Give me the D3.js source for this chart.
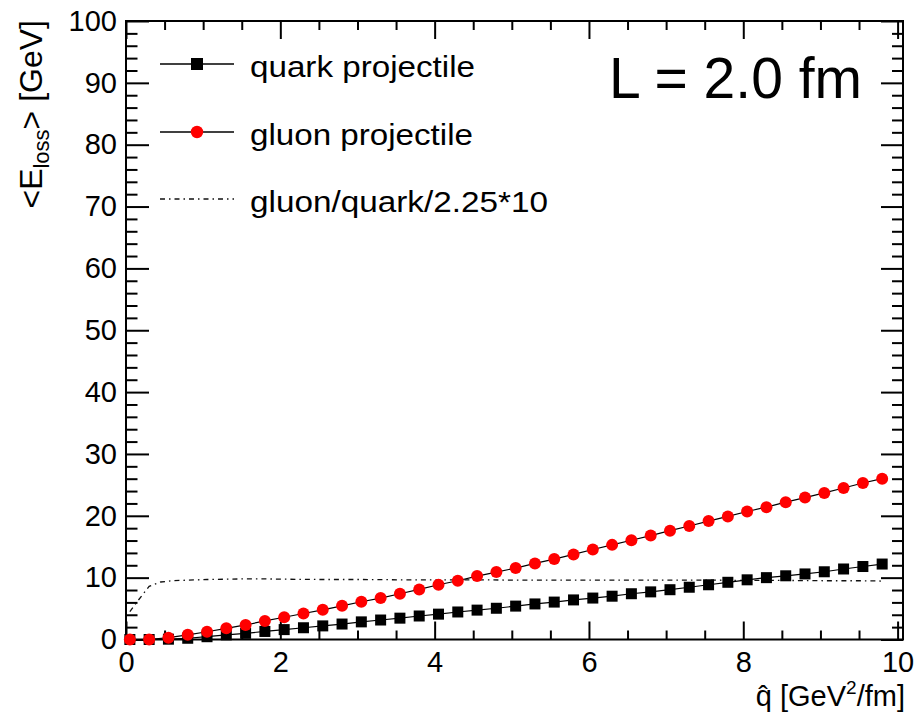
<!DOCTYPE html>
<html><head><meta charset="utf-8">
<script src="https://cdn.jsdelivr.net/npm/d3@7"></script>
<style>body{margin:0;background:#fff}</style>
</head><body><svg id="c" width="916" height="721"></svg>
<script>
// ---- data ----
const qValues = [0.05,0.3,0.55,0.8,1.05,1.3,1.55,1.8,2.05,2.3,2.55,2.8,3.05,3.3,3.55,3.8,4.05,4.3,4.55,4.8,
                 5.05,5.3,5.55,5.8,6.05,6.3,6.55,6.8,7.05,7.3,7.55,7.8,8.05,8.3,8.55,8.8,9.05,9.3,9.55,9.8];
const quarkLoss = [0,0,0.05,0.2,0.45,0.75,1.0,1.3,1.6,1.9,2.2,2.5,2.85,3.15,3.45,3.8,4.1,4.45,4.75,5.05,
                   5.4,5.75,6.05,6.4,6.7,7.0,7.4,7.7,8.05,8.45,8.85,9.25,9.65,10.0,10.3,10.6,10.95,11.4,11.8,12.2];
const gluonLoss = [0,0,0.3,0.75,1.25,1.8,2.35,3.0,3.6,4.2,4.8,5.45,6.1,6.7,7.4,8.1,8.85,9.5,10.25,10.9,
                   11.55,12.3,13.0,13.75,14.55,15.3,16.05,16.8,17.6,18.35,19.15,19.9,20.7,21.4,22.2,22.95,23.7,24.5,25.3,26.0];
const ratioQ = [0.05,0.15,0.3,0.45,0.6,0.8,1.05,1.3,1.55,1.8,2.05,2.55,3.05,3.55,4.05,4.55,5.05,5.55,6.05,6.55,7.05,7.55,8.05,8.55,9.05,9.55,9.8];
const ratioValues = [4.5,6.2,8.6,9.3,9.5,9.6,9.7,9.75,9.8,9.8,9.75,9.7,9.7,9.65,9.65,9.65,9.6,9.6,9.6,9.6,9.6,9.6,9.55,9.55,9.5,9.5,9.45];
const xMajorTicks = [0,2,4,6,8,10];
const yMajorTicks = [0,10,20,30,40,50,60,70,80,90,100];
const legendLabels = ["quark projectile","gluon projectile","gluon/quark/2.25*10"];
const annotation = "L = 2.0 fm";

const FONT = "'Liberation Sans', Arial, Helvetica, sans-serif";
const svg = d3.select("#c").style("font-family", FONT);
const x = d3.scaleLinear().domain([0, 10.07]).range([126, 903]);
const y = d3.scaleLinear().domain([0, 100]).range([639.5, 21]);

const xMinor = d3.range(0, 10.06, 0.5).filter(v => Math.abs(v/2 - Math.round(v/2)) > 1e-6);
const yMinor = d3.range(0, 100.1, 2).filter(v => v % 10 !== 0);

function styleAxis(g){
  g.select(".domain").remove();
  g.selectAll("line").attr("stroke","#000").attr("stroke-width",2);
  g.selectAll("text").attr("font-size",29).attr("fill","#000").attr("font-family",FONT);
}
// bottom
svg.append("g").attr("transform",`translate(0,${y(0)})`)
  .call(d3.axisBottom(x).tickValues(xMajorTicks).tickSize(-18).tickPadding(12).tickFormat(d3.format("d"))).call(styleAxis);
svg.append("g").attr("transform",`translate(0,${y(0)})`)
  .call(d3.axisBottom(x).tickValues(xMinor).tickSize(-9).tickFormat("")).call(styleAxis);
// top
svg.append("g").attr("transform",`translate(0,${y(100)})`)
  .call(d3.axisTop(x).tickValues(xMajorTicks).tickSize(-18).tickFormat("")).call(styleAxis);
svg.append("g").attr("transform",`translate(0,${y(100)})`)
  .call(d3.axisTop(x).tickValues(xMinor).tickSize(-9).tickFormat("")).call(styleAxis);
// left
svg.append("g").attr("transform",`translate(${x(0)},0)`)
  .call(d3.axisLeft(y).tickValues(yMajorTicks).tickSize(-23).tickPadding(9).tickFormat(d3.format("d"))).call(styleAxis);
svg.append("g").attr("transform",`translate(${x(0)},0)`)
  .call(d3.axisLeft(y).tickValues(yMinor).tickSize(-11.5).tickFormat("")).call(styleAxis);
// right
svg.append("g").attr("transform",`translate(${x.range()[1]},0)`)
  .call(d3.axisRight(y).tickValues(yMajorTicks).tickSize(-22).tickFormat("")).call(styleAxis);
svg.append("g").attr("transform",`translate(${x.range()[1]},0)`)
  .call(d3.axisRight(y).tickValues(yMinor).tickSize(-11).tickFormat("")).call(styleAxis);

// frame
svg.append("rect").attr("x",x(0)).attr("y",y(100)).attr("width",x.range()[1]-x(0)).attr("height",y(0)-y(100))
  .attr("fill","none").attr("stroke","#000").attr("stroke-width",2);

// ratio dash-dot line
const line = d3.line().x(d=>x(d[0])).y(d=>y(d[1]));
svg.append("path").datum(ratioQ.map((q,i)=>[q,ratioValues[i]])).attr("d",line)
  .attr("fill","none").attr("stroke","#111").attr("stroke-width",1.3).attr("stroke-dasharray","5,4,1.5,4");

// quark
const quarkPts = qValues.map((q,i)=>[q,quarkLoss[i]]);
svg.append("path").datum(quarkPts).attr("d",line).attr("fill","none").attr("stroke","#000").attr("stroke-width",1.2);
svg.selectAll("rect.q").data(quarkPts).enter().append("rect").attr("class","q")
  .attr("x",d=>x(d[0])-5.5).attr("y",d=>y(d[1])-5.5).attr("width",11).attr("height",11).attr("fill","#000");
// gluon
const gluonPts = qValues.map((q,i)=>[q,gluonLoss[i]]);
svg.append("path").datum(gluonPts).attr("d",line).attr("fill","none").attr("stroke","#000").attr("stroke-width",1.2);
svg.selectAll("circle.g").data(gluonPts).enter().append("circle").attr("class","g")
  .attr("cx",d=>x(d[0])).attr("cy",d=>y(d[1])).attr("r",6).attr("fill","#ff0000");

// legend
const legY = [64, 132, 199];
const legW = [225, 223, 298];
legendLabels.forEach((lab,i)=>{
  const ln = svg.append("line").attr("x1",160).attr("x2",234).attr("y1",legY[i]).attr("y2",legY[i])
    .attr("stroke", i===2 ? "#111" : "#000").attr("stroke-width", i===2?1.3:1.5);
  if(i===2) ln.attr("stroke-dasharray","5,4,1.5,4");
  if(i===0) svg.append("rect").attr("x",191).attr("y",legY[i]-6).attr("width",12).attr("height",12).attr("fill","#000");
  if(i===1) svg.append("circle").attr("cx",197).attr("cy",legY[i]).attr("r",6.2).attr("fill","#ff0000");
  svg.append("text").attr("x",250).attr("y",legY[i]+12.5).attr("font-size",29)
    .attr("textLength",legW[i]).attr("lengthAdjust","spacingAndGlyphs").text(lab);
});

// annotation
svg.append("text").attr("x",862).attr("y",98).attr("text-anchor","end").attr("font-size",57).text(annotation);

// y title
const yt = svg.append("text").attr("transform","translate(42,20) rotate(-90)").attr("text-anchor","end").attr("font-size",32);
yt.append("tspan").text("<E");
yt.append("tspan").attr("font-size",22).attr("dy",7).text("loss");
yt.append("tspan").attr("dy",-7).text("> [GeV]");

// x title
const xt = svg.append("text").attr("x",905).attr("y",706).attr("text-anchor","end").attr("font-size",29);
xt.append("tspan").text("q\u0302 [GeV");
xt.append("tspan").attr("font-size",19).attr("dy",-12).text("2");
xt.append("tspan").attr("dy",12).text("/fm]");
</script></body></html>
